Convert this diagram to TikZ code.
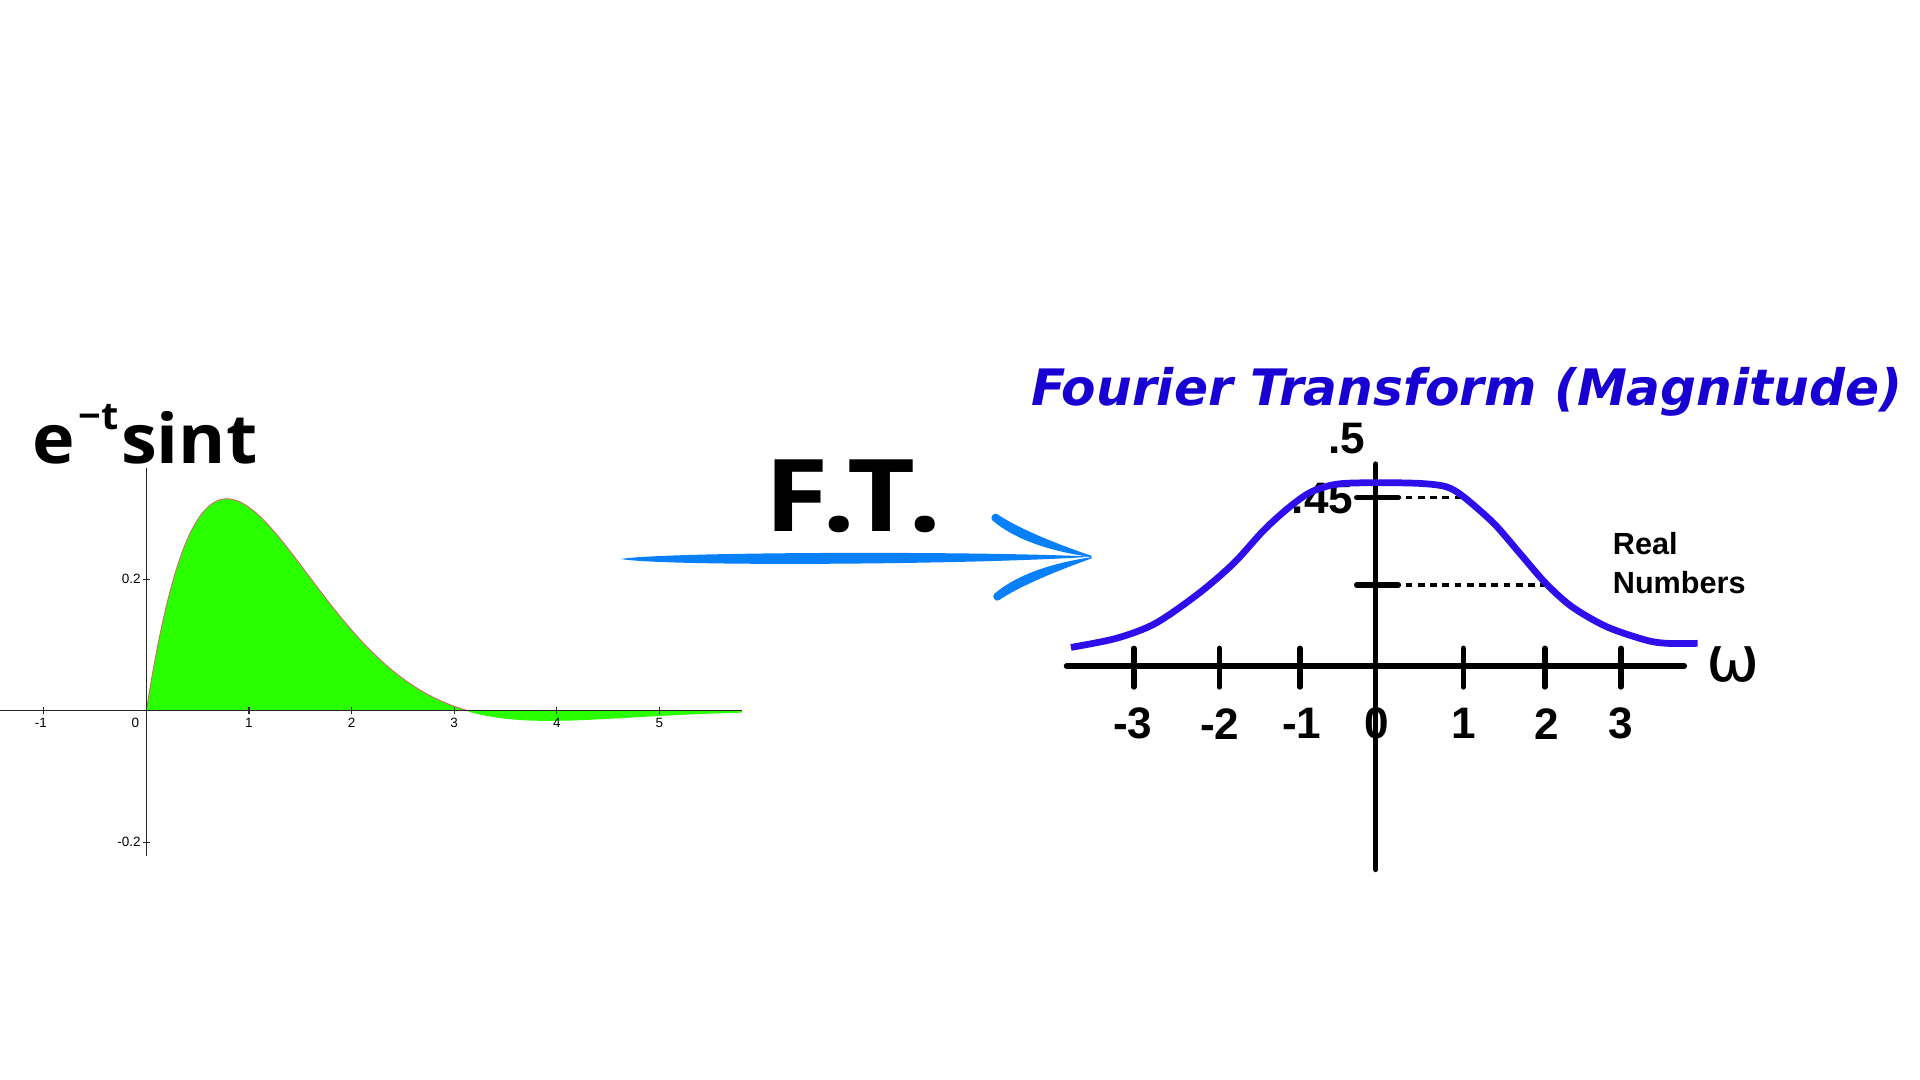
\documentclass[tikz,border=0pt]{standalone}
\usepackage{fontspec}
\usepackage{graphicx}
\setmainfont{Liberation Sans}
\newfontfamily\osans{Open Sans}
\newfontfamily\dvs{DejaVu Sans}[ItalicFont={* Oblique},BoldItalicFont={* Bold Oblique}]
\newfontfamily\libs{Liberation Sans}
\definecolor{ftblue}{RGB}{8,128,250}
\definecolor{curveblue}{RGB}{46,14,235}
\definecolor{titleblue}{RGB}{24,0,210}
\definecolor{fillgreen}{RGB}{42,255,0}
\definecolor{edgepink}{RGB}{214,100,110}
\begin{document}
\begin{tikzpicture}[x=1pt,y=-1pt,
  thinaxis/.style={line width=1pt, draw=black!85},
  thickaxis/.style={line width=4.5pt, line cap=round},
  smalllbl/.style={font=\libs\fontsize{11}{11}\selectfont, inner sep=0pt},
  biglbl/.style={font=\libs\bfseries\fontsize{36}{36}\selectfont, inner sep=0pt},
  dotline/.style={line width=3pt, dash pattern=on 5.5pt off 4.5pt},
  barb/.style={fill=ftblue}
]
\fill[white] (0,0) rectangle (1568,882);
\useasboundingbox (0,0) rectangle (1568,882);

% ---------------- left plot ----------------
\coordinate (O) at (119.5,580.5);
\coordinate (xend) at (606,580.5);
\fill[fillgreen] (O) -- plot[domain=0:5.805, samples=200] ({119.5+83.8*\x},{580.5-537*exp(-\x)*sin(\x r)}) -- (xend) -- cycle;
\draw[edgepink, line width=0.7pt] plot[domain=0:3.1416, samples=150] ({119.5+83.8*\x},{580.5-537*exp(-\x)*sin(\x r)});
\draw[fillgreen, line width=1.5pt] plot[domain=3.1416:5.805, samples=80] ({119.5+83.8*\x},{580.5-537*exp(-\x)*sin(\x r)});

\coordinate (xl) at (0,580.5);
\coordinate (yt) at (119.5,382);
\coordinate (yb) at (119.5,699);
\draw[thinaxis] (xl) -- (xend);
\draw[thinaxis] (yt) -- (yb);
\foreach \k in {-1,1,2,3,4,5}{
  \draw[thinaxis] ({119.5+83.8*\k},577.5) -- ({119.5+83.8*\k},583.5);
}
\draw[thinaxis] (116.5,473.1) -- (122.5,473.1);
\draw[thinaxis] (116.5,687.9) -- (122.5,687.9);

\node[smalllbl] (lxm1) at (33.3,590.5) {-1};
\node[smalllbl] (lx0) at (110.5,590.5) {0};
\node[smalllbl] (lx1) at (203.3,590.5) {1};
\node[smalllbl] (lx2) at (287.1,590.5) {2};
\node[smalllbl] (lx3) at (370.9,590.5) {3};
\node[smalllbl] (lx4) at (454.7,590.5) {4};
\node[smalllbl] (lx5) at (538.5,590.5) {5};
\node[smalllbl, anchor=east] (ly1) at (115,473.1) {0.2};
\node[smalllbl, anchor=east] (ly2) at (115,687.9) {-0.2};

\node[anchor=base west, inner sep=0pt, font=\osans\bfseries\fontsize{56}{56}\selectfont] (ftitle) at (26,378.4)
  {\scalebox{1.05}[1]{e\kern3pt\raisebox{28pt}{\fontsize{31}{31}\selectfont −t}\kern2pt sint}};

% ---------------- arrow ----------------
\coordinate (as) at (507,456.5);
\coordinate (tip) at (891.5,454.6);
\fill[ftblue] (as) .. controls (545,450.5) and (800,450) .. (tip) .. controls (800,461) and (545,463) .. (as) -- cycle;
\fill[barb] (814.4,419.9) .. controls (830,430.5) and (858,442.5) .. (891.5,454)
   -- (891.5,455) .. controls (856,450) and (828,440) .. (810.6,425.1)
   .. controls (807.8,423) and (811.6,417.8) .. (814.4,419.9) -- cycle;
\fill[barb] (815.9,490.1) .. controls (831.5,479.5) and (859.5,467.5) .. (891.5,456)
   -- (891.5,455) .. controls (857.5,460) and (829.5,470) .. (812.1,484.9)
   .. controls (809.3,487) and (813.1,492.2) .. (815.9,490.1) -- cycle;

\node[font=\osans\bfseries\fontsize{82}{82}\selectfont, anchor=base, inner sep=0pt] (ft) at (697,434) {\scalebox{1.17}[1]{F.T.}};

% ---------------- right plot ----------------
\node[font=\dvs\bfseries\itshape\fontsize{41}{41}\selectfont, text=titleblue, inner sep=0pt] (rtitle) at (1198,320) {Fourier Transform (Magnitude)};

\node[biglbl] (rxm3) at (925,591) {-3};
\node[biglbl] (rxm2) at (996,591) {-2};
\node[biglbl] (rxm1) at (1063,591) {-1};
\node[biglbl] (rx0) at (1124,591) {0};
\node[biglbl] (rx1) at (1195,591) {1};
\node[biglbl] (rx2) at (1263,591) {2};
\node[biglbl] (rx3) at (1324,591) {3};
\node[biglbl] (ry5) at (1100,358) {.5};
\node[biglbl] (ry45) at (1080,407) {.45};

\coordinate (hl) at (871,544);
\coordinate (hr) at (1375.5,544);
\coordinate (vt) at (1123.5,379);
\coordinate (vb) at (1123.5,710);
\draw[thickaxis] (hl) -- (hr);
\draw[thickaxis] (vt) -- (vb);
\foreach \xx in {925.9,996,1061.5,1195,1261.6,1323.6}{
  \draw[thickaxis] (\xx,529.5) -- (\xx,561);
}
\draw[line width=4.5pt] (1123.5,529.5) -- (1123.5,561);
\coordinate (t1l) at (1108,406.4);
\coordinate (t1r) at (1142,406.4);
\coordinate (t2l) at (1108,477.7);
\coordinate (t2r) at (1142,477.7);
\draw[thickaxis] (t1l) -- (t1r);
\draw[thickaxis] (t2l) -- (t2r);
\coordinate (d1s) at (1148,406.4);
\coordinate (d1) at (1197,406.4);
\coordinate (d2s) at (1148,477.7);
\coordinate (d2) at (1262,477.7);
\draw[dotline] (d1s) -- (d1);
\draw[dotline] (d2s) -- (d2);

\node[anchor=base west, inner sep=0pt, font=\libs\bfseries\fontsize{25}{25}\selectfont] (real) at (1317,453) {Real};
\node[anchor=base west, inner sep=0pt, font=\libs\bfseries\fontsize{25}{25}\selectfont] (numbers) at (1317,485) {Numbers};

\node[inner sep=0pt, font=\dvs\fontsize{52}{52}\selectfont] (omega) at (1415,543) {ω};

\draw[curveblue, line width=5.5pt] plot[smooth, tension=0.5] coordinates {
  (874.6,528.7) (911.7,521.3) (943.6,509.1) (979,484.6) (1007.4,460.1) (1032.2,432.9)
  (1053.4,413.8) (1071.1,401.6) (1092.4,395.3) (1124.3,394.2) (1159.7,394.8) (1181,397.5)
  (1195.1,405.6) (1219.9,427.4) (1241.2,451.9) (1262.4,476.4) (1283.7,495.5) (1312,511.8)
  (1343.9,522.7) (1361.6,525.4) (1386.4,525.4)};
\end{tikzpicture}
\end{document}
